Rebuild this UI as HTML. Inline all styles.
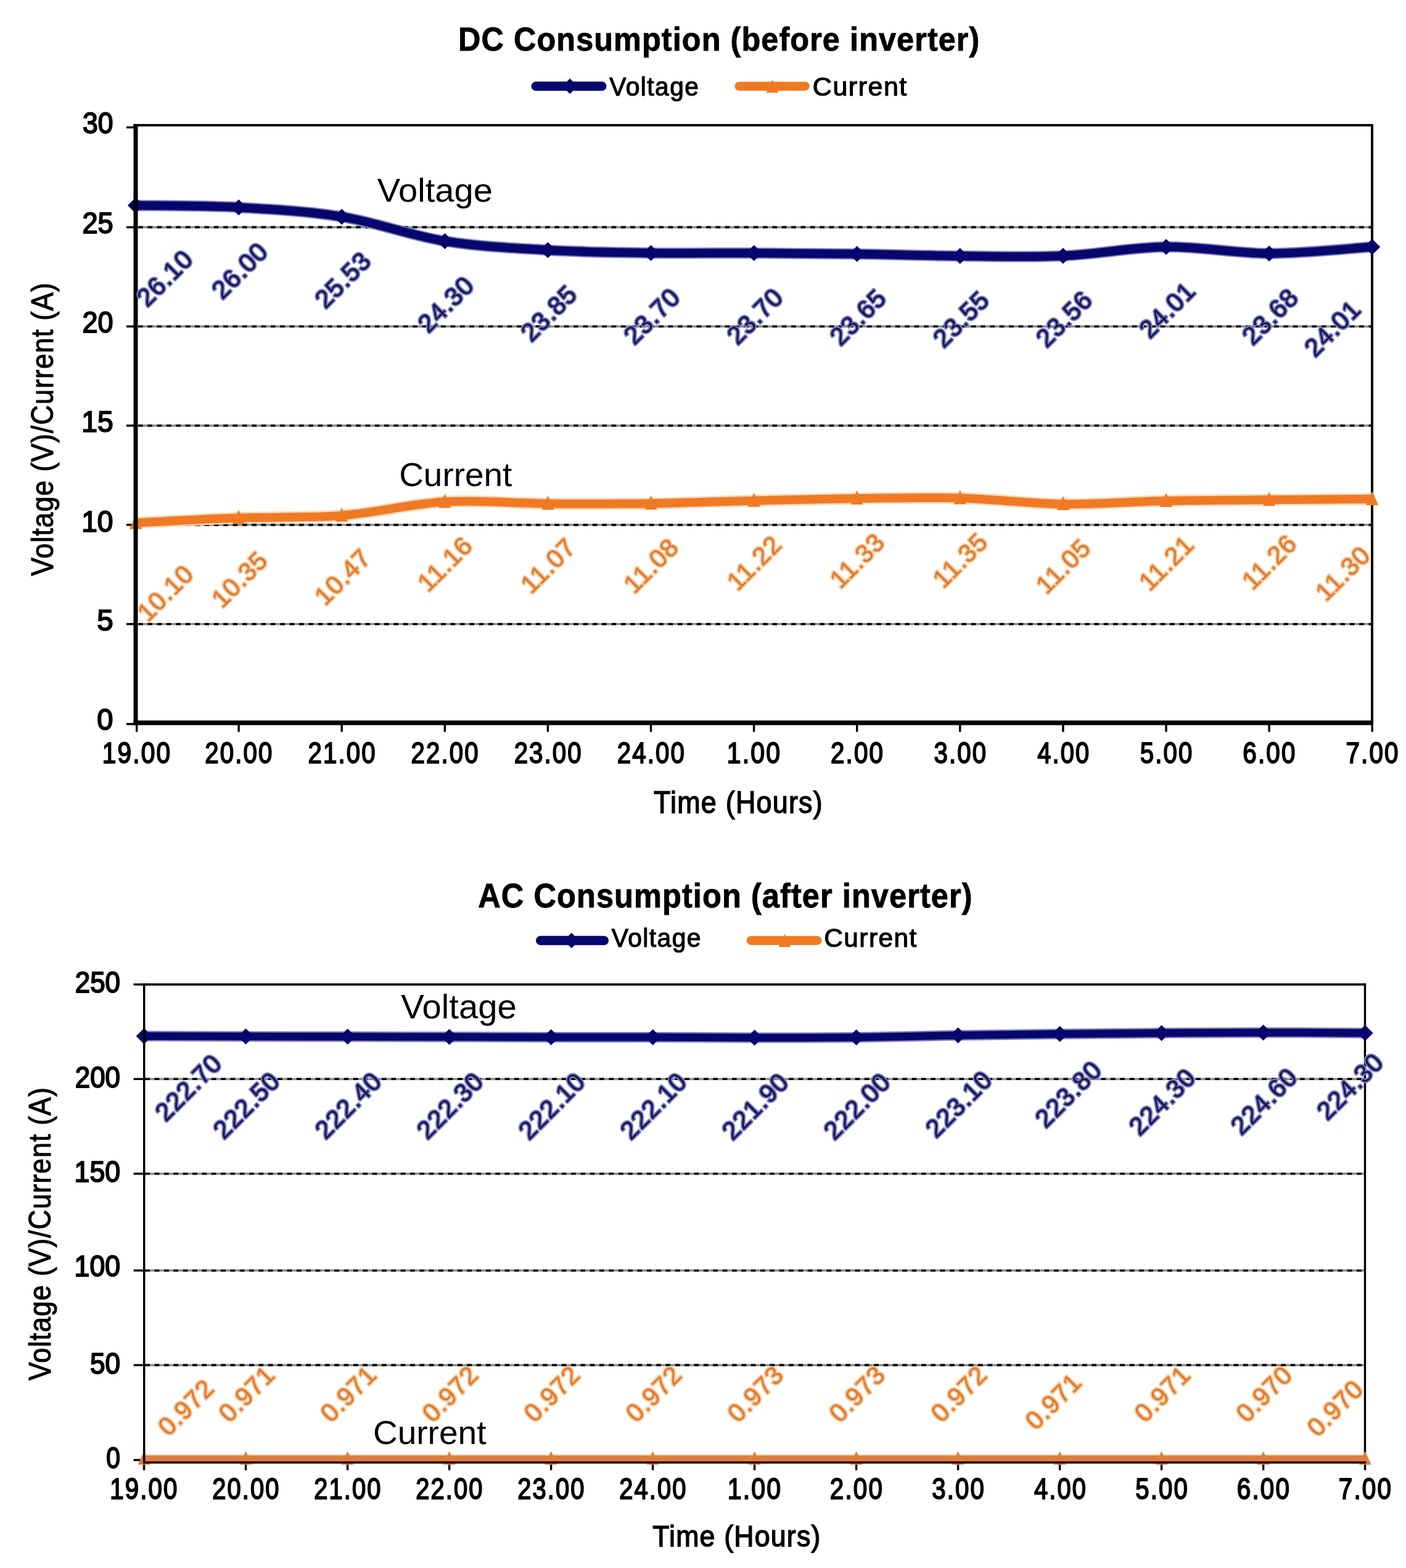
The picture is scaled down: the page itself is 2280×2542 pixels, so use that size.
<!DOCTYPE html>
<html><head><meta charset="utf-8"><title>DC and AC Consumption</title>
<style>html,body{margin:0;padding:0;background:#fff;}svg{display:block;}text{font-family:'Liberation Sans', Arial, sans-serif;}</style>
</head><body>
<svg width="2280" height="2542" viewBox="0 0 2280 2542">
<rect width="2280" height="2542" fill="#fff"/>
<text transform="translate(742.93,81.60) scale(0.9296,1)" font-size="54.22" font-weight="bold" fill="#000" letter-spacing="1.166" stroke="#000" stroke-width="0.9">DC Consumption (before inverter)</text>
<line x1="869.00" y1="139.70" x2="976.00" y2="139.70" stroke="#06066c" stroke-width="15" stroke-linecap="round"/>
<path d="M924.20,127.20 L936.70,139.70 L924.20,152.20 L911.70,139.70Z" fill="#06066c"/>
<text transform="translate(988.32,154.50) scale(0.9741,1)" font-size="41.86" font-weight="normal" fill="#000" letter-spacing="1.489" stroke="#000" stroke-width="1.2">Voltage</text>
<line x1="1198.75" y1="139.70" x2="1305.45" y2="139.70" stroke="#f07a24" stroke-width="14.5" stroke-linecap="round"/>
<path d="M1252.50,129.20 L1262.50,150.20 L1242.50,150.20Z" fill="#f07a24"/>
<text transform="translate(1317.81,154.50) scale(1.0114,1)" font-size="42.55" font-weight="normal" fill="#000" letter-spacing="1.483" stroke="#000" stroke-width="1.2">Current</text>
<rect x="224.00" y="366.60" width="1999.00" height="3.60" fill="#8e8e8e"/>
<line x1="224.00" y1="368.40" x2="2223.00" y2="368.40" stroke="#000" stroke-width="3.6" stroke-dasharray="7.7 7.65"/>
<rect x="224.00" y="527.40" width="1999.00" height="3.60" fill="#8e8e8e"/>
<line x1="224.00" y1="529.20" x2="2223.00" y2="529.20" stroke="#000" stroke-width="3.6" stroke-dasharray="7.7 7.65"/>
<rect x="224.00" y="688.20" width="1999.00" height="3.60" fill="#8e8e8e"/>
<line x1="224.00" y1="690.00" x2="2223.00" y2="690.00" stroke="#000" stroke-width="3.6" stroke-dasharray="7.7 7.65"/>
<rect x="224.00" y="849.10" width="1999.00" height="3.60" fill="#8e8e8e"/>
<line x1="224.00" y1="850.90" x2="2223.00" y2="850.90" stroke="#000" stroke-width="3.6" stroke-dasharray="7.7 7.65"/>
<rect x="224.00" y="1009.90" width="1999.00" height="3.60" fill="#8e8e8e"/>
<line x1="224.00" y1="1011.70" x2="2223.00" y2="1011.70" stroke="#000" stroke-width="3.6" stroke-dasharray="7.7 7.65"/>
<rect x="216.50" y="201.00" width="2010.50" height="4.00" fill="#000"/>
<rect x="2223.00" y="201.00" width="4.00" height="971.00" fill="#000"/>
<rect x="205.00" y="204.80" width="12.00" height="3.40" fill="#000"/>
<rect x="205.00" y="366.70" width="12.00" height="3.40" fill="#000"/>
<rect x="205.00" y="527.50" width="12.00" height="3.40" fill="#000"/>
<rect x="205.00" y="688.30" width="12.00" height="3.40" fill="#000"/>
<rect x="205.00" y="849.20" width="12.00" height="3.40" fill="#000"/>
<rect x="205.00" y="1010.00" width="12.00" height="3.40" fill="#000"/>
<rect x="205.00" y="1172.10" width="12.00" height="3.40" fill="#000"/>
<rect x="220.00" y="1172.00" width="3.40" height="14.50" fill="#000"/>
<rect x="385.40" y="1172.00" width="3.40" height="14.50" fill="#000"/>
<rect x="552.50" y="1172.00" width="3.40" height="14.50" fill="#000"/>
<rect x="719.60" y="1172.00" width="3.40" height="14.50" fill="#000"/>
<rect x="886.70" y="1172.00" width="3.40" height="14.50" fill="#000"/>
<rect x="1053.80" y="1172.00" width="3.40" height="14.50" fill="#000"/>
<rect x="1220.90" y="1172.00" width="3.40" height="14.50" fill="#000"/>
<rect x="1388.00" y="1172.00" width="3.40" height="14.50" fill="#000"/>
<rect x="1555.10" y="1172.00" width="3.40" height="14.50" fill="#000"/>
<rect x="1722.20" y="1172.00" width="3.40" height="14.50" fill="#000"/>
<rect x="1889.30" y="1172.00" width="3.40" height="14.50" fill="#000"/>
<rect x="2056.40" y="1172.00" width="3.40" height="14.50" fill="#000"/>
<rect x="2223.50" y="1172.00" width="3.40" height="14.50" fill="#000"/>
<path d="M220.00,333.05 C247.85,333.58 331.40,333.21 387.10,336.26 C442.80,339.32 498.50,342.27 554.20,351.38 C609.90,360.49 665.60,381.93 721.30,390.94 C777.00,399.94 832.70,402.20 888.40,405.41 C944.10,408.63 999.80,409.43 1055.50,410.24 C1111.20,411.04 1166.90,409.97 1222.60,410.24 C1278.30,410.50 1334.00,411.04 1389.70,411.85 C1445.40,412.65 1501.10,414.58 1556.80,415.06 C1612.50,415.54 1668.20,417.21 1723.90,414.74 C1779.60,412.27 1835.30,400.91 1891.00,400.27 C1946.70,399.62 2002.40,410.88 2058.10,410.88 C2113.80,410.88 2197.35,402.04 2225.20,400.27" fill="none" stroke="#7c7cbc" stroke-width="18" stroke-linejoin="round"/>
<path d="M220.00,333.05 C247.85,333.58 331.40,333.21 387.10,336.26 C442.80,339.32 498.50,342.27 554.20,351.38 C609.90,360.49 665.60,381.93 721.30,390.94 C777.00,399.94 832.70,402.20 888.40,405.41 C944.10,408.63 999.80,409.43 1055.50,410.24 C1111.20,411.04 1166.90,409.97 1222.60,410.24 C1278.30,410.50 1334.00,411.04 1389.70,411.85 C1445.40,412.65 1501.10,414.58 1556.80,415.06 C1612.50,415.54 1668.20,417.21 1723.90,414.74 C1779.60,412.27 1835.30,400.91 1891.00,400.27 C1946.70,399.62 2002.40,410.88 2058.10,410.88 C2113.80,410.88 2197.35,402.04 2225.20,400.27" fill="none" stroke="#06066c" stroke-width="14" stroke-linejoin="round"/>
<path d="M220.00,847.65 C247.85,846.31 331.40,841.60 387.10,839.61 C442.80,837.63 498.50,840.10 554.20,835.75 C609.90,831.41 665.60,816.78 721.30,813.56 C777.00,810.34 832.70,816.03 888.40,816.46 C944.10,816.88 999.80,816.94 1055.50,816.13 C1111.20,815.33 1166.90,812.97 1222.60,811.63 C1278.30,810.29 1334.00,808.79 1389.70,808.09 C1445.40,807.40 1501.10,805.95 1556.80,807.45 C1612.50,808.95 1668.20,816.35 1723.90,817.10 C1779.60,817.85 1835.30,813.08 1891.00,811.95 C1946.70,810.83 2002.40,810.83 2058.10,810.34 C2113.80,809.86 2197.35,809.27 2225.20,809.06" fill="none" stroke="#fcd8b8" stroke-width="19" stroke-linejoin="round"/>
<path d="M220.00,847.65 C247.85,846.31 331.40,841.60 387.10,839.61 C442.80,837.63 498.50,840.10 554.20,835.75 C609.90,831.41 665.60,816.78 721.30,813.56 C777.00,810.34 832.70,816.03 888.40,816.46 C944.10,816.88 999.80,816.94 1055.50,816.13 C1111.20,815.33 1166.90,812.97 1222.60,811.63 C1278.30,810.29 1334.00,808.79 1389.70,808.09 C1445.40,807.40 1501.10,805.95 1556.80,807.45 C1612.50,808.95 1668.20,816.35 1723.90,817.10 C1779.60,817.85 1835.30,813.08 1891.00,811.95 C1946.70,810.83 2002.40,810.83 2058.10,810.34 C2113.80,809.86 2197.35,809.27 2225.20,809.06" fill="none" stroke="#f07a24" stroke-width="14" stroke-linejoin="round"/>
<path d="M220.00,320.05 L233.00,333.05 L220.00,346.05 L207.00,333.05Z" fill="#06066c"/>
<path d="M387.10,323.26 L400.10,336.26 L387.10,349.26 L374.10,336.26Z" fill="#06066c"/>
<path d="M554.20,338.38 L567.20,351.38 L554.20,364.38 L541.20,351.38Z" fill="#06066c"/>
<path d="M721.30,377.94 L734.30,390.94 L721.30,403.94 L708.30,390.94Z" fill="#06066c"/>
<path d="M888.40,392.41 L901.40,405.41 L888.40,418.41 L875.40,405.41Z" fill="#06066c"/>
<path d="M1055.50,397.24 L1068.50,410.24 L1055.50,423.24 L1042.50,410.24Z" fill="#06066c"/>
<path d="M1222.60,397.24 L1235.60,410.24 L1222.60,423.24 L1209.60,410.24Z" fill="#06066c"/>
<path d="M1389.70,398.85 L1402.70,411.85 L1389.70,424.85 L1376.70,411.85Z" fill="#06066c"/>
<path d="M1556.80,402.06 L1569.80,415.06 L1556.80,428.06 L1543.80,415.06Z" fill="#06066c"/>
<path d="M1723.90,401.74 L1736.90,414.74 L1723.90,427.74 L1710.90,414.74Z" fill="#06066c"/>
<path d="M1891.00,387.27 L1904.00,400.27 L1891.00,413.27 L1878.00,400.27Z" fill="#06066c"/>
<path d="M2058.10,397.88 L2071.10,410.88 L2058.10,423.88 L2045.10,410.88Z" fill="#06066c"/>
<path d="M2225.20,387.27 L2238.20,400.27 L2225.20,413.27 L2212.20,400.27Z" fill="#06066c"/>
<path d="M220.00,834.65 L230.00,857.65 L210.00,857.65Z" fill="#f07a24"/>
<path d="M387.10,826.61 L397.10,849.61 L377.10,849.61Z" fill="#f07a24"/>
<path d="M554.20,822.75 L564.20,845.75 L544.20,845.75Z" fill="#f07a24"/>
<path d="M721.30,800.56 L731.30,823.56 L711.30,823.56Z" fill="#f07a24"/>
<path d="M888.40,803.46 L898.40,826.46 L878.40,826.46Z" fill="#f07a24"/>
<path d="M1055.50,803.13 L1065.50,826.13 L1045.50,826.13Z" fill="#f07a24"/>
<path d="M1222.60,798.63 L1232.60,821.63 L1212.60,821.63Z" fill="#f07a24"/>
<path d="M1389.70,795.09 L1399.70,818.09 L1379.70,818.09Z" fill="#f07a24"/>
<path d="M1556.80,794.45 L1566.80,817.45 L1546.80,817.45Z" fill="#f07a24"/>
<path d="M1723.90,804.10 L1733.90,827.10 L1713.90,827.10Z" fill="#f07a24"/>
<path d="M1891.00,798.95 L1901.00,821.95 L1881.00,821.95Z" fill="#f07a24"/>
<path d="M2058.10,797.34 L2068.10,820.34 L2048.10,820.34Z" fill="#f07a24"/>
<path d="M2225.20,796.06 L2235.20,819.06 L2215.20,819.06Z" fill="#f07a24"/>
<rect x="216.50" y="201.00" width="7.00" height="974.60" fill="#000"/>
<rect x="216.50" y="1168.05" width="2010.50" height="7.50" fill="#000"/>
<text transform="translate(134.01,216.00) scale(0.9123,1)" font-size="48.71" font-weight="normal" fill="#000" stroke="#000" stroke-width="2.0">30</text>
<text transform="translate(133.43,377.60) scale(0.9258,1)" font-size="48.71" font-weight="normal" fill="#000" stroke="#000" stroke-width="2.0">25</text>
<text transform="translate(133.44,538.60) scale(0.9232,1)" font-size="48.71" font-weight="normal" fill="#000" stroke="#000" stroke-width="2.0">20</text>
<text transform="translate(132.18,699.80) scale(0.9499,1)" font-size="48.71" font-weight="normal" fill="#000" stroke="#000" stroke-width="2.0">15</text>
<text transform="translate(132.19,861.50) scale(0.9471,1)" font-size="48.71" font-weight="normal" fill="#000" stroke="#000" stroke-width="2.0">10</text>
<text transform="translate(157.30,1022.30) scale(0.9742,1)" font-size="48.71" font-weight="normal" fill="#000" stroke="#000" stroke-width="2.0">5</text>
<text transform="translate(157.36,1183.00) scale(0.9663,1)" font-size="48.71" font-weight="normal" fill="#000" stroke="#000" stroke-width="2.0">0</text>
<text transform="translate(165.85,1237.00) scale(0.8347,1)" font-size="48.71" font-weight="normal" fill="#000" letter-spacing="2.528" stroke="#000" stroke-width="2.0">19.00</text>
<text transform="translate(332.33,1237.00) scale(0.8257,1)" font-size="48.71" font-weight="normal" fill="#000" letter-spacing="2.555" stroke="#000" stroke-width="2.0">20.00</text>
<text transform="translate(499.43,1237.00) scale(0.8257,1)" font-size="48.71" font-weight="normal" fill="#000" letter-spacing="2.555" stroke="#000" stroke-width="2.0">21.00</text>
<text transform="translate(666.53,1237.00) scale(0.8257,1)" font-size="48.71" font-weight="normal" fill="#000" letter-spacing="2.555" stroke="#000" stroke-width="2.0">22.00</text>
<text transform="translate(833.63,1237.00) scale(0.8257,1)" font-size="48.71" font-weight="normal" fill="#000" letter-spacing="2.555" stroke="#000" stroke-width="2.0">23.00</text>
<text transform="translate(1000.73,1237.00) scale(0.8257,1)" font-size="48.71" font-weight="normal" fill="#000" letter-spacing="2.555" stroke="#000" stroke-width="2.0">24.00</text>
<text transform="translate(1178.73,1237.00) scale(0.8407,1)" font-size="48.71" font-weight="normal" fill="#000" letter-spacing="2.585" stroke="#000" stroke-width="2.0">1.00</text>
<text transform="translate(1346.92,1237.00) scale(0.8289,1)" font-size="48.71" font-weight="normal" fill="#000" letter-spacing="2.622" stroke="#000" stroke-width="2.0">2.00</text>
<text transform="translate(1514.52,1237.00) scale(0.8235,1)" font-size="48.71" font-weight="normal" fill="#000" letter-spacing="2.639" stroke="#000" stroke-width="2.0">3.00</text>
<text transform="translate(1682.24,1237.00) scale(0.8169,1)" font-size="48.71" font-weight="normal" fill="#000" letter-spacing="2.660" stroke="#000" stroke-width="2.0">4.00</text>
<text transform="translate(1848.64,1237.00) scale(0.8244,1)" font-size="48.71" font-weight="normal" fill="#000" letter-spacing="2.636" stroke="#000" stroke-width="2.0">5.00</text>
<text transform="translate(2015.30,1237.00) scale(0.8292,1)" font-size="48.71" font-weight="normal" fill="#000" letter-spacing="2.621" stroke="#000" stroke-width="2.0">6.00</text>
<text transform="translate(2182.38,1237.00) scale(0.8294,1)" font-size="48.71" font-weight="normal" fill="#000" letter-spacing="2.620" stroke="#000" stroke-width="2.0">7.00</text>
<text transform="translate(1059.99,1317.70) scale(0.9006,1)" font-size="49.85" font-weight="normal" fill="#000" letter-spacing="1.371" stroke="#000" stroke-width="1.5">Time (Hours)</text>
<text transform="translate(85.70,933.80) rotate(-90) scale(0.8885,1)" font-size="50.00" font-weight="normal" fill="#000" letter-spacing="1.215" stroke="#000" stroke-width="1.1">Voltage (V)/Current (A)</text>
<text transform="translate(611.75,327.40) scale(1.0318,1)" font-size="54.36" font-weight="normal" fill="#000" >Voltage</text>
<text transform="translate(647.21,787.80) scale(1.0145,1)" font-size="54.15" font-weight="normal" fill="#000" >Current</text>
<text transform="translate(267.00,451.05) rotate(-45)" x="-53.93" y="14.11" font-size="41" font-weight="normal" letter-spacing="1.2" fill="#161652" stroke="#7e7ec2" stroke-width="4.4" paint-order="stroke" stroke-linejoin="round">26.10</text>
<text transform="translate(388.60,438.76) rotate(-45)" x="-53.93" y="14.11" font-size="41" font-weight="normal" letter-spacing="1.2" fill="#161652" stroke="#7e7ec2" stroke-width="4.4" paint-order="stroke" stroke-linejoin="round">26.00</text>
<text transform="translate(555.70,453.88) rotate(-45)" x="-53.83" y="14.11" font-size="41" font-weight="normal" letter-spacing="1.2" fill="#161652" stroke="#7e7ec2" stroke-width="4.4" paint-order="stroke" stroke-linejoin="round">25.53</text>
<text transform="translate(722.80,493.44) rotate(-45)" x="-53.93" y="14.11" font-size="41" font-weight="normal" letter-spacing="1.2" fill="#161652" stroke="#7e7ec2" stroke-width="4.4" paint-order="stroke" stroke-linejoin="round">24.30</text>
<text transform="translate(889.90,507.91) rotate(-45)" x="-53.87" y="14.11" font-size="41" font-weight="normal" letter-spacing="1.2" fill="#161652" stroke="#7e7ec2" stroke-width="4.4" paint-order="stroke" stroke-linejoin="round">23.85</text>
<text transform="translate(1057.00,512.74) rotate(-45)" x="-53.93" y="14.11" font-size="41" font-weight="normal" letter-spacing="1.2" fill="#161652" stroke="#7e7ec2" stroke-width="4.4" paint-order="stroke" stroke-linejoin="round">23.70</text>
<text transform="translate(1224.10,512.74) rotate(-45)" x="-53.93" y="14.11" font-size="41" font-weight="normal" letter-spacing="1.2" fill="#161652" stroke="#7e7ec2" stroke-width="4.4" paint-order="stroke" stroke-linejoin="round">23.70</text>
<text transform="translate(1391.20,514.35) rotate(-45)" x="-53.87" y="14.11" font-size="41" font-weight="normal" letter-spacing="1.2" fill="#161652" stroke="#7e7ec2" stroke-width="4.4" paint-order="stroke" stroke-linejoin="round">23.65</text>
<text transform="translate(1558.30,517.56) rotate(-45)" x="-53.87" y="14.11" font-size="41" font-weight="normal" letter-spacing="1.2" fill="#161652" stroke="#7e7ec2" stroke-width="4.4" paint-order="stroke" stroke-linejoin="round">23.55</text>
<text transform="translate(1725.40,517.24) rotate(-45)" x="-53.83" y="14.11" font-size="41" font-weight="normal" letter-spacing="1.2" fill="#161652" stroke="#7e7ec2" stroke-width="4.4" paint-order="stroke" stroke-linejoin="round">23.56</text>
<text transform="translate(1892.50,502.77) rotate(-45)" x="-53.73" y="14.11" font-size="41" font-weight="normal" letter-spacing="1.2" fill="#161652" stroke="#7e7ec2" stroke-width="4.4" paint-order="stroke" stroke-linejoin="round">24.01</text>
<text transform="translate(2059.60,513.38) rotate(-45)" x="-53.84" y="14.11" font-size="41" font-weight="normal" letter-spacing="1.2" fill="#161652" stroke="#7e7ec2" stroke-width="4.4" paint-order="stroke" stroke-linejoin="round">23.68</text>
<text transform="translate(2160.60,532.67) rotate(-45)" x="-53.73" y="14.11" font-size="41" font-weight="normal" letter-spacing="1.2" fill="#161652" stroke="#7e7ec2" stroke-width="4.4" paint-order="stroke" stroke-linejoin="round">24.01</text>
<text transform="translate(268.40,961.15) rotate(-45)" x="-54.46" y="14.11" font-size="41" font-weight="normal" letter-spacing="1.2" fill="#dc7a34" stroke="#fbc592" stroke-width="4.4" paint-order="stroke" stroke-linejoin="round">10.10</text>
<text transform="translate(388.60,939.11) rotate(-45)" x="-54.40" y="14.11" font-size="41" font-weight="normal" letter-spacing="1.2" fill="#dc7a34" stroke="#fbc592" stroke-width="4.4" paint-order="stroke" stroke-linejoin="round">10.35</text>
<text transform="translate(555.70,935.25) rotate(-45)" x="-54.23" y="14.11" font-size="41" font-weight="normal" letter-spacing="1.2" fill="#dc7a34" stroke="#fbc592" stroke-width="4.4" paint-order="stroke" stroke-linejoin="round">10.47</text>
<text transform="translate(722.80,913.06) rotate(-45)" x="-54.36" y="14.11" font-size="41" font-weight="normal" letter-spacing="1.2" fill="#dc7a34" stroke="#fbc592" stroke-width="4.4" paint-order="stroke" stroke-linejoin="round">11.16</text>
<text transform="translate(889.90,915.96) rotate(-45)" x="-54.23" y="14.11" font-size="41" font-weight="normal" letter-spacing="1.2" fill="#dc7a34" stroke="#fbc592" stroke-width="4.4" paint-order="stroke" stroke-linejoin="round">11.07</text>
<text transform="translate(1057.00,915.63) rotate(-45)" x="-54.37" y="14.11" font-size="41" font-weight="normal" letter-spacing="1.2" fill="#dc7a34" stroke="#fbc592" stroke-width="4.4" paint-order="stroke" stroke-linejoin="round">11.08</text>
<text transform="translate(1224.10,911.13) rotate(-45)" x="-54.23" y="14.31" font-size="41" font-weight="normal" letter-spacing="1.2" fill="#dc7a34" stroke="#fbc592" stroke-width="4.4" paint-order="stroke" stroke-linejoin="round">11.22</text>
<text transform="translate(1391.20,907.59) rotate(-45)" x="-54.36" y="14.11" font-size="41" font-weight="normal" letter-spacing="1.2" fill="#dc7a34" stroke="#fbc592" stroke-width="4.4" paint-order="stroke" stroke-linejoin="round">11.33</text>
<text transform="translate(1558.30,906.95) rotate(-45)" x="-54.40" y="14.11" font-size="41" font-weight="normal" letter-spacing="1.2" fill="#dc7a34" stroke="#fbc592" stroke-width="4.4" paint-order="stroke" stroke-linejoin="round">11.35</text>
<text transform="translate(1725.40,916.60) rotate(-45)" x="-54.40" y="14.11" font-size="41" font-weight="normal" letter-spacing="1.2" fill="#dc7a34" stroke="#fbc592" stroke-width="4.4" paint-order="stroke" stroke-linejoin="round">11.05</text>
<text transform="translate(1892.50,911.45) rotate(-45)" x="-54.26" y="14.31" font-size="41" font-weight="normal" letter-spacing="1.2" fill="#dc7a34" stroke="#fbc592" stroke-width="4.4" paint-order="stroke" stroke-linejoin="round">11.21</text>
<text transform="translate(2059.60,909.84) rotate(-45)" x="-54.36" y="14.11" font-size="41" font-weight="normal" letter-spacing="1.2" fill="#dc7a34" stroke="#fbc592" stroke-width="4.4" paint-order="stroke" stroke-linejoin="round">11.26</text>
<text transform="translate(2178.80,928.36) rotate(-45)" x="-54.46" y="14.11" font-size="41" font-weight="normal" letter-spacing="1.2" fill="#dc7a34" stroke="#fbc592" stroke-width="4.4" paint-order="stroke" stroke-linejoin="round">11.30</text>
<text transform="translate(775.24,1470.80) scale(0.9252,1)" font-size="54.65" font-weight="bold" fill="#000" letter-spacing="1.150" stroke="#000" stroke-width="0.9">AC Consumption (after inverter)</text>
<line x1="876.50" y1="1524.70" x2="979.50" y2="1524.70" stroke="#06066c" stroke-width="15" stroke-linecap="round"/>
<path d="M926.80,1512.20 L939.30,1524.70 L926.80,1537.20 L914.30,1524.70Z" fill="#06066c"/>
<text transform="translate(991.72,1535.40) scale(0.9714,1)" font-size="42.01" font-weight="normal" fill="#000" letter-spacing="1.494" stroke="#000" stroke-width="1.2">Voltage</text>
<line x1="1217.95" y1="1524.70" x2="1325.35" y2="1524.70" stroke="#f07a24" stroke-width="14.5" stroke-linecap="round"/>
<path d="M1272.50,1514.20 L1282.50,1535.20 L1262.50,1535.20Z" fill="#f07a24"/>
<text transform="translate(1336.25,1535.40) scale(0.9952,1)" font-size="42.55" font-weight="normal" fill="#000" letter-spacing="1.483" stroke="#000" stroke-width="1.2">Current</text>
<rect x="235.30" y="1747.50" width="1976.70" height="3.60" fill="#8e8e8e"/>
<line x1="235.30" y1="1749.30" x2="2212.00" y2="1749.30" stroke="#000" stroke-width="3.6" stroke-dasharray="7.7 7.65"/>
<rect x="235.30" y="1901.00" width="1976.70" height="3.60" fill="#8e8e8e"/>
<line x1="235.30" y1="1902.80" x2="2212.00" y2="1902.80" stroke="#000" stroke-width="3.6" stroke-dasharray="7.7 7.65"/>
<rect x="235.30" y="2057.90" width="1976.70" height="3.60" fill="#8e8e8e"/>
<line x1="235.30" y1="2059.70" x2="2212.00" y2="2059.70" stroke="#000" stroke-width="3.6" stroke-dasharray="7.7 7.65"/>
<rect x="235.30" y="2211.30" width="1976.70" height="3.60" fill="#8e8e8e"/>
<line x1="235.30" y1="2213.10" x2="2212.00" y2="2213.10" stroke="#000" stroke-width="3.6" stroke-dasharray="7.7 7.65"/>
<rect x="232.00" y="1594.20" width="1983.20" height="3.60" fill="#000"/>
<rect x="2211.80" y="1594.30" width="3.40" height="777.70" fill="#000"/>
<rect x="216.60" y="1594.30" width="15.40" height="3.40" fill="#000"/>
<rect x="216.60" y="1747.60" width="15.40" height="3.40" fill="#000"/>
<rect x="216.60" y="1901.10" width="15.40" height="3.40" fill="#000"/>
<rect x="216.60" y="2058.00" width="15.40" height="3.40" fill="#000"/>
<rect x="216.60" y="2211.40" width="15.40" height="3.40" fill="#000"/>
<rect x="216.60" y="2365.30" width="15.40" height="3.40" fill="#000"/>
<rect x="231.90" y="2370.00" width="3.40" height="13.50" fill="#000"/>
<rect x="396.90" y="2370.00" width="3.40" height="13.50" fill="#000"/>
<rect x="561.90" y="2370.00" width="3.40" height="13.50" fill="#000"/>
<rect x="726.90" y="2370.00" width="3.40" height="13.50" fill="#000"/>
<rect x="891.90" y="2370.00" width="3.40" height="13.50" fill="#000"/>
<rect x="1056.90" y="2370.00" width="3.40" height="13.50" fill="#000"/>
<rect x="1221.90" y="2370.00" width="3.40" height="13.50" fill="#000"/>
<rect x="1386.90" y="2370.00" width="3.40" height="13.50" fill="#000"/>
<rect x="1551.90" y="2370.00" width="3.40" height="13.50" fill="#000"/>
<rect x="1716.90" y="2370.00" width="3.40" height="13.50" fill="#000"/>
<rect x="1881.90" y="2370.00" width="3.40" height="13.50" fill="#000"/>
<rect x="2046.90" y="2370.00" width="3.40" height="13.50" fill="#000"/>
<rect x="2211.90" y="2370.00" width="3.40" height="13.50" fill="#000"/>
<path d="M233.60,1679.70 C261.10,1679.80 343.60,1680.16 398.60,1680.32 C453.60,1680.47 508.60,1680.52 563.60,1680.62 C618.60,1680.72 673.60,1680.77 728.60,1680.93 C783.60,1681.08 838.60,1681.44 893.60,1681.54 C948.60,1681.64 1003.60,1681.44 1058.60,1681.54 C1113.60,1681.64 1168.60,1682.10 1223.60,1682.15 C1278.60,1682.21 1333.60,1682.46 1388.60,1681.85 C1443.60,1681.23 1498.60,1679.40 1553.60,1678.48 C1608.60,1677.56 1663.60,1676.94 1718.60,1676.33 C1773.60,1675.72 1828.60,1675.20 1883.60,1674.80 C1938.60,1674.39 1993.60,1673.88 2048.60,1673.88 C2103.60,1673.88 2186.10,1674.64 2213.60,1674.80" fill="none" stroke="#7c7cbc" stroke-width="17" stroke-linejoin="round"/>
<path d="M233.60,1679.70 C261.10,1679.80 343.60,1680.16 398.60,1680.32 C453.60,1680.47 508.60,1680.52 563.60,1680.62 C618.60,1680.72 673.60,1680.77 728.60,1680.93 C783.60,1681.08 838.60,1681.44 893.60,1681.54 C948.60,1681.64 1003.60,1681.44 1058.60,1681.54 C1113.60,1681.64 1168.60,1682.10 1223.60,1682.15 C1278.60,1682.21 1333.60,1682.46 1388.60,1681.85 C1443.60,1681.23 1498.60,1679.40 1553.60,1678.48 C1608.60,1677.56 1663.60,1676.94 1718.60,1676.33 C1773.60,1675.72 1828.60,1675.20 1883.60,1674.80 C1938.60,1674.39 1993.60,1673.88 2048.60,1673.88 C2103.60,1673.88 2186.10,1674.64 2213.60,1674.80" fill="none" stroke="#06066c" stroke-width="12.5" stroke-linejoin="round"/>
<path d="M233.60,2365.48 C261.10,2365.48 343.60,2365.48 398.60,2365.48 C453.60,2365.48 508.60,2365.48 563.60,2365.48 C618.60,2365.48 673.60,2365.48 728.60,2365.48 C783.60,2365.48 838.60,2365.48 893.60,2365.48 C948.60,2365.48 1003.60,2365.48 1058.60,2365.48 C1113.60,2365.48 1168.60,2365.48 1223.60,2365.48 C1278.60,2365.48 1333.60,2365.48 1388.60,2365.48 C1443.60,2365.48 1498.60,2365.48 1553.60,2365.48 C1608.60,2365.48 1663.60,2365.48 1718.60,2365.48 C1773.60,2365.48 1828.60,2365.48 1883.60,2365.48 C1938.60,2365.48 1993.60,2365.48 2048.60,2365.49 C2103.60,2365.49 2186.10,2365.49 2213.60,2365.49" fill="none" stroke="#fcd8b8" stroke-width="15" stroke-linejoin="round"/>
<path d="M233.60,2365.48 C261.10,2365.48 343.60,2365.48 398.60,2365.48 C453.60,2365.48 508.60,2365.48 563.60,2365.48 C618.60,2365.48 673.60,2365.48 728.60,2365.48 C783.60,2365.48 838.60,2365.48 893.60,2365.48 C948.60,2365.48 1003.60,2365.48 1058.60,2365.48 C1113.60,2365.48 1168.60,2365.48 1223.60,2365.48 C1278.60,2365.48 1333.60,2365.48 1388.60,2365.48 C1443.60,2365.48 1498.60,2365.48 1553.60,2365.48 C1608.60,2365.48 1663.60,2365.48 1718.60,2365.48 C1773.60,2365.48 1828.60,2365.48 1883.60,2365.48 C1938.60,2365.48 1993.60,2365.48 2048.60,2365.49 C2103.60,2365.49 2186.10,2365.49 2213.60,2365.49" fill="none" stroke="#de7e3e" stroke-width="12" stroke-linejoin="round"/>
<path d="M233.60,1666.70 L246.60,1679.70 L233.60,1692.70 L220.60,1679.70Z" fill="#06066c"/>
<path d="M398.60,1667.32 L411.60,1680.32 L398.60,1693.32 L385.60,1680.32Z" fill="#06066c"/>
<path d="M563.60,1667.62 L576.60,1680.62 L563.60,1693.62 L550.60,1680.62Z" fill="#06066c"/>
<path d="M728.60,1667.93 L741.60,1680.93 L728.60,1693.93 L715.60,1680.93Z" fill="#06066c"/>
<path d="M893.60,1668.54 L906.60,1681.54 L893.60,1694.54 L880.60,1681.54Z" fill="#06066c"/>
<path d="M1058.60,1668.54 L1071.60,1681.54 L1058.60,1694.54 L1045.60,1681.54Z" fill="#06066c"/>
<path d="M1223.60,1669.15 L1236.60,1682.15 L1223.60,1695.15 L1210.60,1682.15Z" fill="#06066c"/>
<path d="M1388.60,1668.85 L1401.60,1681.85 L1388.60,1694.85 L1375.60,1681.85Z" fill="#06066c"/>
<path d="M1553.60,1665.48 L1566.60,1678.48 L1553.60,1691.48 L1540.60,1678.48Z" fill="#06066c"/>
<path d="M1718.60,1663.33 L1731.60,1676.33 L1718.60,1689.33 L1705.60,1676.33Z" fill="#06066c"/>
<path d="M1883.60,1661.80 L1896.60,1674.80 L1883.60,1687.80 L1870.60,1674.80Z" fill="#06066c"/>
<path d="M2048.60,1660.88 L2061.60,1673.88 L2048.60,1686.88 L2035.60,1673.88Z" fill="#06066c"/>
<path d="M2213.60,1661.80 L2226.60,1674.80 L2213.60,1687.80 L2200.60,1674.80Z" fill="#06066c"/>
<path d="M233.60,2352.48 L243.60,2374.48 L223.60,2374.48Z" fill="#de7e3e"/>
<path d="M398.60,2352.48 L408.60,2374.48 L388.60,2374.48Z" fill="#de7e3e"/>
<path d="M563.60,2352.48 L573.60,2374.48 L553.60,2374.48Z" fill="#de7e3e"/>
<path d="M728.60,2352.48 L738.60,2374.48 L718.60,2374.48Z" fill="#de7e3e"/>
<path d="M893.60,2352.48 L903.60,2374.48 L883.60,2374.48Z" fill="#de7e3e"/>
<path d="M1058.60,2352.48 L1068.60,2374.48 L1048.60,2374.48Z" fill="#de7e3e"/>
<path d="M1223.60,2352.48 L1233.60,2374.48 L1213.60,2374.48Z" fill="#de7e3e"/>
<path d="M1388.60,2352.48 L1398.60,2374.48 L1378.60,2374.48Z" fill="#de7e3e"/>
<path d="M1553.60,2352.48 L1563.60,2374.48 L1543.60,2374.48Z" fill="#de7e3e"/>
<path d="M1718.60,2352.48 L1728.60,2374.48 L1708.60,2374.48Z" fill="#de7e3e"/>
<path d="M1883.60,2352.48 L1893.60,2374.48 L1873.60,2374.48Z" fill="#de7e3e"/>
<path d="M2048.60,2352.49 L2058.60,2374.49 L2038.60,2374.49Z" fill="#de7e3e"/>
<path d="M2213.60,2352.49 L2223.60,2374.49 L2203.60,2374.49Z" fill="#de7e3e"/>
<rect x="231.95" y="1594.30" width="3.50" height="778.20" fill="#000"/>
<rect x="232.00" y="2369.05" width="1983.20" height="3.70" fill="#2a0800"/>
<text transform="translate(121.79,1609.20) scale(0.9063,1)" font-size="48.42" font-weight="normal" fill="#000" stroke="#000" stroke-width="2.0">250</text>
<text transform="translate(121.79,1762.50) scale(0.9063,1)" font-size="48.42" font-weight="normal" fill="#000" stroke="#000" stroke-width="2.0">200</text>
<text transform="translate(120.60,1916.00) scale(0.9214,1)" font-size="48.42" font-weight="normal" fill="#000" stroke="#000" stroke-width="2.0">150</text>
<text transform="translate(120.60,2069.30) scale(0.9214,1)" font-size="48.42" font-weight="normal" fill="#000" stroke="#000" stroke-width="2.0">100</text>
<text transform="translate(145.93,2227.00) scale(0.9114,1)" font-size="48.42" font-weight="normal" fill="#000" stroke="#000" stroke-width="2.0">50</text>
<text transform="translate(172.21,2379.80) scale(0.8424,1)" font-size="48.42" font-weight="normal" fill="#000" stroke="#000" stroke-width="2.0">0</text>
<text transform="translate(178.28,2430.00) scale(0.8268,1)" font-size="48.71" font-weight="normal" fill="#000" letter-spacing="2.528" stroke="#000" stroke-width="2.0">19.00</text>
<text transform="translate(344.35,2430.00) scale(0.8179,1)" font-size="48.71" font-weight="normal" fill="#000" letter-spacing="2.555" stroke="#000" stroke-width="2.0">20.00</text>
<text transform="translate(509.35,2430.00) scale(0.8179,1)" font-size="48.71" font-weight="normal" fill="#000" letter-spacing="2.555" stroke="#000" stroke-width="2.0">21.00</text>
<text transform="translate(674.35,2430.00) scale(0.8179,1)" font-size="48.71" font-weight="normal" fill="#000" letter-spacing="2.555" stroke="#000" stroke-width="2.0">22.00</text>
<text transform="translate(839.35,2430.00) scale(0.8179,1)" font-size="48.71" font-weight="normal" fill="#000" letter-spacing="2.555" stroke="#000" stroke-width="2.0">23.00</text>
<text transform="translate(1004.35,2430.00) scale(0.8179,1)" font-size="48.71" font-weight="normal" fill="#000" letter-spacing="2.555" stroke="#000" stroke-width="2.0">24.00</text>
<text transform="translate(1179.73,2430.00) scale(0.8407,1)" font-size="48.71" font-weight="normal" fill="#000" letter-spacing="2.585" stroke="#000" stroke-width="2.0">1.00</text>
<text transform="translate(1345.82,2430.00) scale(0.8289,1)" font-size="48.71" font-weight="normal" fill="#000" letter-spacing="2.622" stroke="#000" stroke-width="2.0">2.00</text>
<text transform="translate(1511.32,2430.00) scale(0.8235,1)" font-size="48.71" font-weight="normal" fill="#000" letter-spacing="2.639" stroke="#000" stroke-width="2.0">3.00</text>
<text transform="translate(1676.94,2430.00) scale(0.8169,1)" font-size="48.71" font-weight="normal" fill="#000" letter-spacing="2.660" stroke="#000" stroke-width="2.0">4.00</text>
<text transform="translate(1841.24,2430.00) scale(0.8244,1)" font-size="48.71" font-weight="normal" fill="#000" letter-spacing="2.636" stroke="#000" stroke-width="2.0">5.00</text>
<text transform="translate(2005.80,2430.00) scale(0.8292,1)" font-size="48.71" font-weight="normal" fill="#000" letter-spacing="2.621" stroke="#000" stroke-width="2.0">6.00</text>
<text transform="translate(2170.78,2430.00) scale(0.8294,1)" font-size="48.71" font-weight="normal" fill="#000" letter-spacing="2.620" stroke="#000" stroke-width="2.0">7.00</text>
<text transform="translate(1058.30,2506.60) scale(0.9187,1)" font-size="48.55" font-weight="normal" fill="#000" letter-spacing="1.335" stroke="#000" stroke-width="1.5">Time (Hours)</text>
<text transform="translate(81.90,2238.10) rotate(-90) scale(0.8906,1)" font-size="49.85" font-weight="normal" fill="#000" letter-spacing="1.212" stroke="#000" stroke-width="1.1">Voltage (V)/Current (A)</text>
<text transform="translate(650.15,1650.80) scale(1.0291,1)" font-size="54.65" font-weight="normal" fill="#000" >Voltage</text>
<text transform="translate(604.90,2341.40) scale(1.0221,1)" font-size="53.87" font-weight="normal" fill="#000" >Current</text>
<text transform="translate(305.40,1763.30) rotate(-45)" x="-65.93" y="14.11" font-size="41" font-weight="normal" letter-spacing="1.2" fill="#161652" stroke="#7e7ec2" stroke-width="4.4" paint-order="stroke" stroke-linejoin="round">222.70</text>
<text transform="translate(399.60,1791.82) rotate(-45)" x="-65.93" y="14.11" font-size="41" font-weight="normal" letter-spacing="1.2" fill="#161652" stroke="#7e7ec2" stroke-width="4.4" paint-order="stroke" stroke-linejoin="round">222.50</text>
<text transform="translate(564.60,1792.12) rotate(-45)" x="-65.93" y="14.11" font-size="41" font-weight="normal" letter-spacing="1.2" fill="#161652" stroke="#7e7ec2" stroke-width="4.4" paint-order="stroke" stroke-linejoin="round">222.40</text>
<text transform="translate(729.60,1792.43) rotate(-45)" x="-65.93" y="14.11" font-size="41" font-weight="normal" letter-spacing="1.2" fill="#161652" stroke="#7e7ec2" stroke-width="4.4" paint-order="stroke" stroke-linejoin="round">222.30</text>
<text transform="translate(894.60,1793.04) rotate(-45)" x="-65.93" y="14.11" font-size="41" font-weight="normal" letter-spacing="1.2" fill="#161652" stroke="#7e7ec2" stroke-width="4.4" paint-order="stroke" stroke-linejoin="round">222.10</text>
<text transform="translate(1059.60,1793.04) rotate(-45)" x="-65.93" y="14.11" font-size="41" font-weight="normal" letter-spacing="1.2" fill="#161652" stroke="#7e7ec2" stroke-width="4.4" paint-order="stroke" stroke-linejoin="round">222.10</text>
<text transform="translate(1224.60,1793.65) rotate(-45)" x="-65.93" y="14.11" font-size="41" font-weight="normal" letter-spacing="1.2" fill="#161652" stroke="#7e7ec2" stroke-width="4.4" paint-order="stroke" stroke-linejoin="round">221.90</text>
<text transform="translate(1389.60,1793.35) rotate(-45)" x="-65.93" y="14.11" font-size="41" font-weight="normal" letter-spacing="1.2" fill="#161652" stroke="#7e7ec2" stroke-width="4.4" paint-order="stroke" stroke-linejoin="round">222.00</text>
<text transform="translate(1554.60,1789.98) rotate(-45)" x="-65.93" y="14.11" font-size="41" font-weight="normal" letter-spacing="1.2" fill="#161652" stroke="#7e7ec2" stroke-width="4.4" paint-order="stroke" stroke-linejoin="round">223.10</text>
<text transform="translate(1732.30,1773.83) rotate(-45)" x="-65.93" y="14.11" font-size="41" font-weight="normal" letter-spacing="1.2" fill="#161652" stroke="#7e7ec2" stroke-width="4.4" paint-order="stroke" stroke-linejoin="round">223.80</text>
<text transform="translate(1884.60,1786.30) rotate(-45)" x="-65.93" y="14.11" font-size="41" font-weight="normal" letter-spacing="1.2" fill="#161652" stroke="#7e7ec2" stroke-width="4.4" paint-order="stroke" stroke-linejoin="round">224.30</text>
<text transform="translate(2049.60,1785.38) rotate(-45)" x="-65.93" y="14.11" font-size="41" font-weight="normal" letter-spacing="1.2" fill="#161652" stroke="#7e7ec2" stroke-width="4.4" paint-order="stroke" stroke-linejoin="round">224.60</text>
<text transform="translate(2189.20,1761.50) rotate(-45)" x="-65.93" y="14.11" font-size="41" font-weight="normal" letter-spacing="1.2" fill="#161652" stroke="#7e7ec2" stroke-width="4.4" paint-order="stroke" stroke-linejoin="round">224.30</text>
<text transform="translate(301.00,2282.00) rotate(-45)" x="-53.47" y="14.11" font-size="41" font-weight="normal" letter-spacing="1.2" fill="#dc7a34" stroke="#fbc592" stroke-width="4.4" paint-order="stroke" stroke-linejoin="round">0.972</text>
<text transform="translate(399.60,2260.00) rotate(-45)" x="-53.50" y="14.11" font-size="41" font-weight="normal" letter-spacing="1.2" fill="#dc7a34" stroke="#fbc592" stroke-width="4.4" paint-order="stroke" stroke-linejoin="round">0.971</text>
<text transform="translate(564.60,2260.00) rotate(-45)" x="-53.50" y="14.11" font-size="41" font-weight="normal" letter-spacing="1.2" fill="#dc7a34" stroke="#fbc592" stroke-width="4.4" paint-order="stroke" stroke-linejoin="round">0.971</text>
<text transform="translate(729.60,2260.00) rotate(-45)" x="-53.47" y="14.11" font-size="41" font-weight="normal" letter-spacing="1.2" fill="#dc7a34" stroke="#fbc592" stroke-width="4.4" paint-order="stroke" stroke-linejoin="round">0.972</text>
<text transform="translate(894.60,2260.00) rotate(-45)" x="-53.47" y="14.11" font-size="41" font-weight="normal" letter-spacing="1.2" fill="#dc7a34" stroke="#fbc592" stroke-width="4.4" paint-order="stroke" stroke-linejoin="round">0.972</text>
<text transform="translate(1059.60,2260.00) rotate(-45)" x="-53.47" y="14.11" font-size="41" font-weight="normal" letter-spacing="1.2" fill="#dc7a34" stroke="#fbc592" stroke-width="4.4" paint-order="stroke" stroke-linejoin="round">0.972</text>
<text transform="translate(1224.60,2260.00) rotate(-45)" x="-53.60" y="14.11" font-size="41" font-weight="normal" letter-spacing="1.2" fill="#dc7a34" stroke="#fbc592" stroke-width="4.4" paint-order="stroke" stroke-linejoin="round">0.973</text>
<text transform="translate(1389.60,2260.00) rotate(-45)" x="-53.60" y="14.11" font-size="41" font-weight="normal" letter-spacing="1.2" fill="#dc7a34" stroke="#fbc592" stroke-width="4.4" paint-order="stroke" stroke-linejoin="round">0.973</text>
<text transform="translate(1554.60,2260.00) rotate(-45)" x="-53.47" y="14.11" font-size="41" font-weight="normal" letter-spacing="1.2" fill="#dc7a34" stroke="#fbc592" stroke-width="4.4" paint-order="stroke" stroke-linejoin="round">0.972</text>
<text transform="translate(1707.70,2272.30) rotate(-45)" x="-53.50" y="14.11" font-size="41" font-weight="normal" letter-spacing="1.2" fill="#dc7a34" stroke="#fbc592" stroke-width="4.4" paint-order="stroke" stroke-linejoin="round">0.971</text>
<text transform="translate(1884.60,2260.00) rotate(-45)" x="-53.50" y="14.11" font-size="41" font-weight="normal" letter-spacing="1.2" fill="#dc7a34" stroke="#fbc592" stroke-width="4.4" paint-order="stroke" stroke-linejoin="round">0.971</text>
<text transform="translate(2049.60,2260.00) rotate(-45)" x="-53.70" y="14.11" font-size="41" font-weight="normal" letter-spacing="1.2" fill="#dc7a34" stroke="#fbc592" stroke-width="4.4" paint-order="stroke" stroke-linejoin="round">0.970</text>
<text transform="translate(2164.60,2283.00) rotate(-45)" x="-53.70" y="14.11" font-size="41" font-weight="normal" letter-spacing="1.2" fill="#dc7a34" stroke="#fbc592" stroke-width="4.4" paint-order="stroke" stroke-linejoin="round">0.970</text>
</svg>
</body></html>
